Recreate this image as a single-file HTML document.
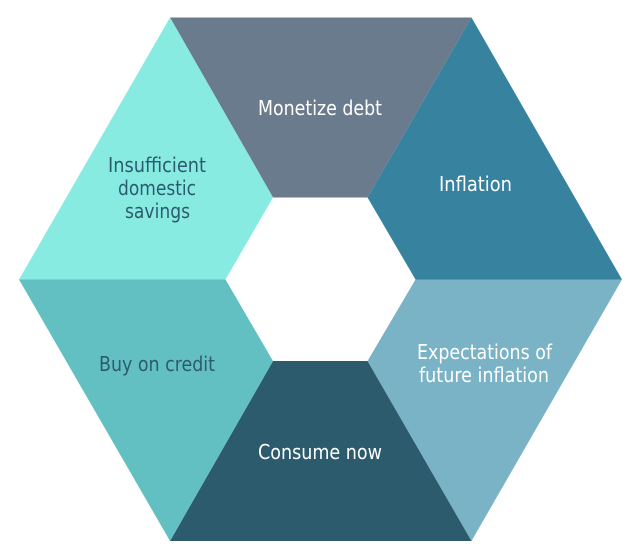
<!DOCTYPE html>
<html>
<head>
<meta charset="utf-8">
<style>
html,body{margin:0;padding:0;background:#fff;width:640px;height:558px;overflow:hidden}
svg{display:block}
text{font-family:"DejaVu Sans","Liberation Sans",sans-serif;font-size:20px}
.w{fill:#fff}
.d{fill:#2d5b6e}
</style>
</head>
<body>
<svg width="640" height="558" viewBox="0 0 640 558" xmlns="http://www.w3.org/2000/svg">
<polygon points="170,17.5 471.5,17.5 367.5,197.5 273,197.5" fill="#6b7b8e"/>
<polygon points="471.5,17.5 622,279.5 415.5,279.5 367.5,197.5" fill="#37829e"/>
<polygon points="622,279.5 471.5,541 367.5,361 415.5,279.5" fill="#7ab3c5"/>
<polygon points="471.5,541 170,541 273,361 367.5,361" fill="#2d5b6e"/>
<polygon points="170,541 19,279.5 225.5,279.5 273,361" fill="#62c0c3"/>
<polygon points="19,279.5 170,17.5 273,197.5 225.5,279.5" fill="#87ebe2"/>
<text class="w" x="258" y="115" textLength="124" lengthAdjust="spacingAndGlyphs">Monetize debt</text>
<text class="w" x="439" y="191" textLength="73" lengthAdjust="spacingAndGlyphs">Inflation</text>
<text class="w" x="417" y="359" textLength="135" lengthAdjust="spacingAndGlyphs">Expectations of</text>
<text class="w" x="419" y="382" textLength="130" lengthAdjust="spacingAndGlyphs">future inflation</text>
<text class="w" x="258" y="459" textLength="124" lengthAdjust="spacingAndGlyphs">Consume now</text>
<text class="d" x="99" y="371" textLength="116" lengthAdjust="spacingAndGlyphs">Buy on credit</text>
<text class="d" x="108" y="172" textLength="98" lengthAdjust="spacingAndGlyphs">Insufficient</text>
<text class="d" x="118" y="195" textLength="78" lengthAdjust="spacingAndGlyphs">domestic</text>
<text class="d" x="125" y="218" textLength="65" lengthAdjust="spacingAndGlyphs">savings</text>
</svg>
</body>
</html>
